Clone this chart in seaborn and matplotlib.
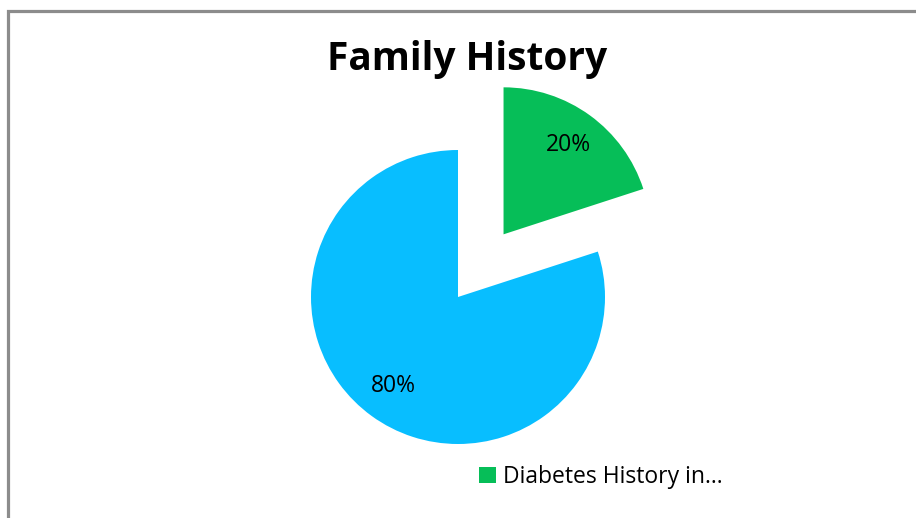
import matplotlib
matplotlib.use("Agg")
import matplotlib.pyplot as plt
from matplotlib.patches import Rectangle, Patch
import seaborn as sns

# Family history of diabetes among respondents
labels = ["Diabetes History in Family", "No Diabetes History"]
shares = [20, 80]
legend_text = ["Diabetes History in\u2026"]
title = "Family History"
colors = ["#06BE58", "#08BEFF"]

sns.set_theme(style="white")
plt.rcParams["font.family"] = ["Open Sans", "DejaVu Sans"]

W, H = 916, 518
fig = plt.figure(figsize=(W / 100, H / 100), dpi=100)
fig.patch.set_facecolor("white")

# chart frame (only top and left edges fall inside the canvas)
fig.patches.append(Rectangle((7.5, -20), W + 40, H - 10.5 + 20, transform=None,
                             fill=False, edgecolor="#8C8C8C", linewidth=2.3))

ax = fig.add_axes([0, 0, 1, 1])
cx, cy, r = 458, 297, 147
ax.axis("off")

wedges, texts, autotexts = ax.pie(
    shares, colors=colors, startangle=90, counterclock=False,
    explode=[0.527, 0], radius=1, autopct="%.0f%%", pctdistance=0.75,
    wedgeprops=dict(linewidth=0), textprops=dict(fontsize=16.5, color="black"),
)
ax.set_aspect("auto")
ax.set_xlim(-cx / r, (W - cx) / r)
ax.set_ylim(-(H - cy) / r, cy / r)

fig.text(467 / W, 1 - 70 / H, title, ha="center", va="baseline",
         fontsize=28, fontweight="bold", color="black")

handles = [Patch(facecolor=colors[0], edgecolor="none")]
ax.legend(handles, legend_text, loc="upper left",
          bbox_to_anchor=(479 / W, 1 - 465 / H), bbox_transform=fig.transFigure,
          frameon=False, fontsize=16.5, handlelength=0.75, handleheight=0.75,
          handletextpad=0.3, borderpad=0, borderaxespad=0, labelcolor="black")

fig.savefig("out.png", dpi=100)
